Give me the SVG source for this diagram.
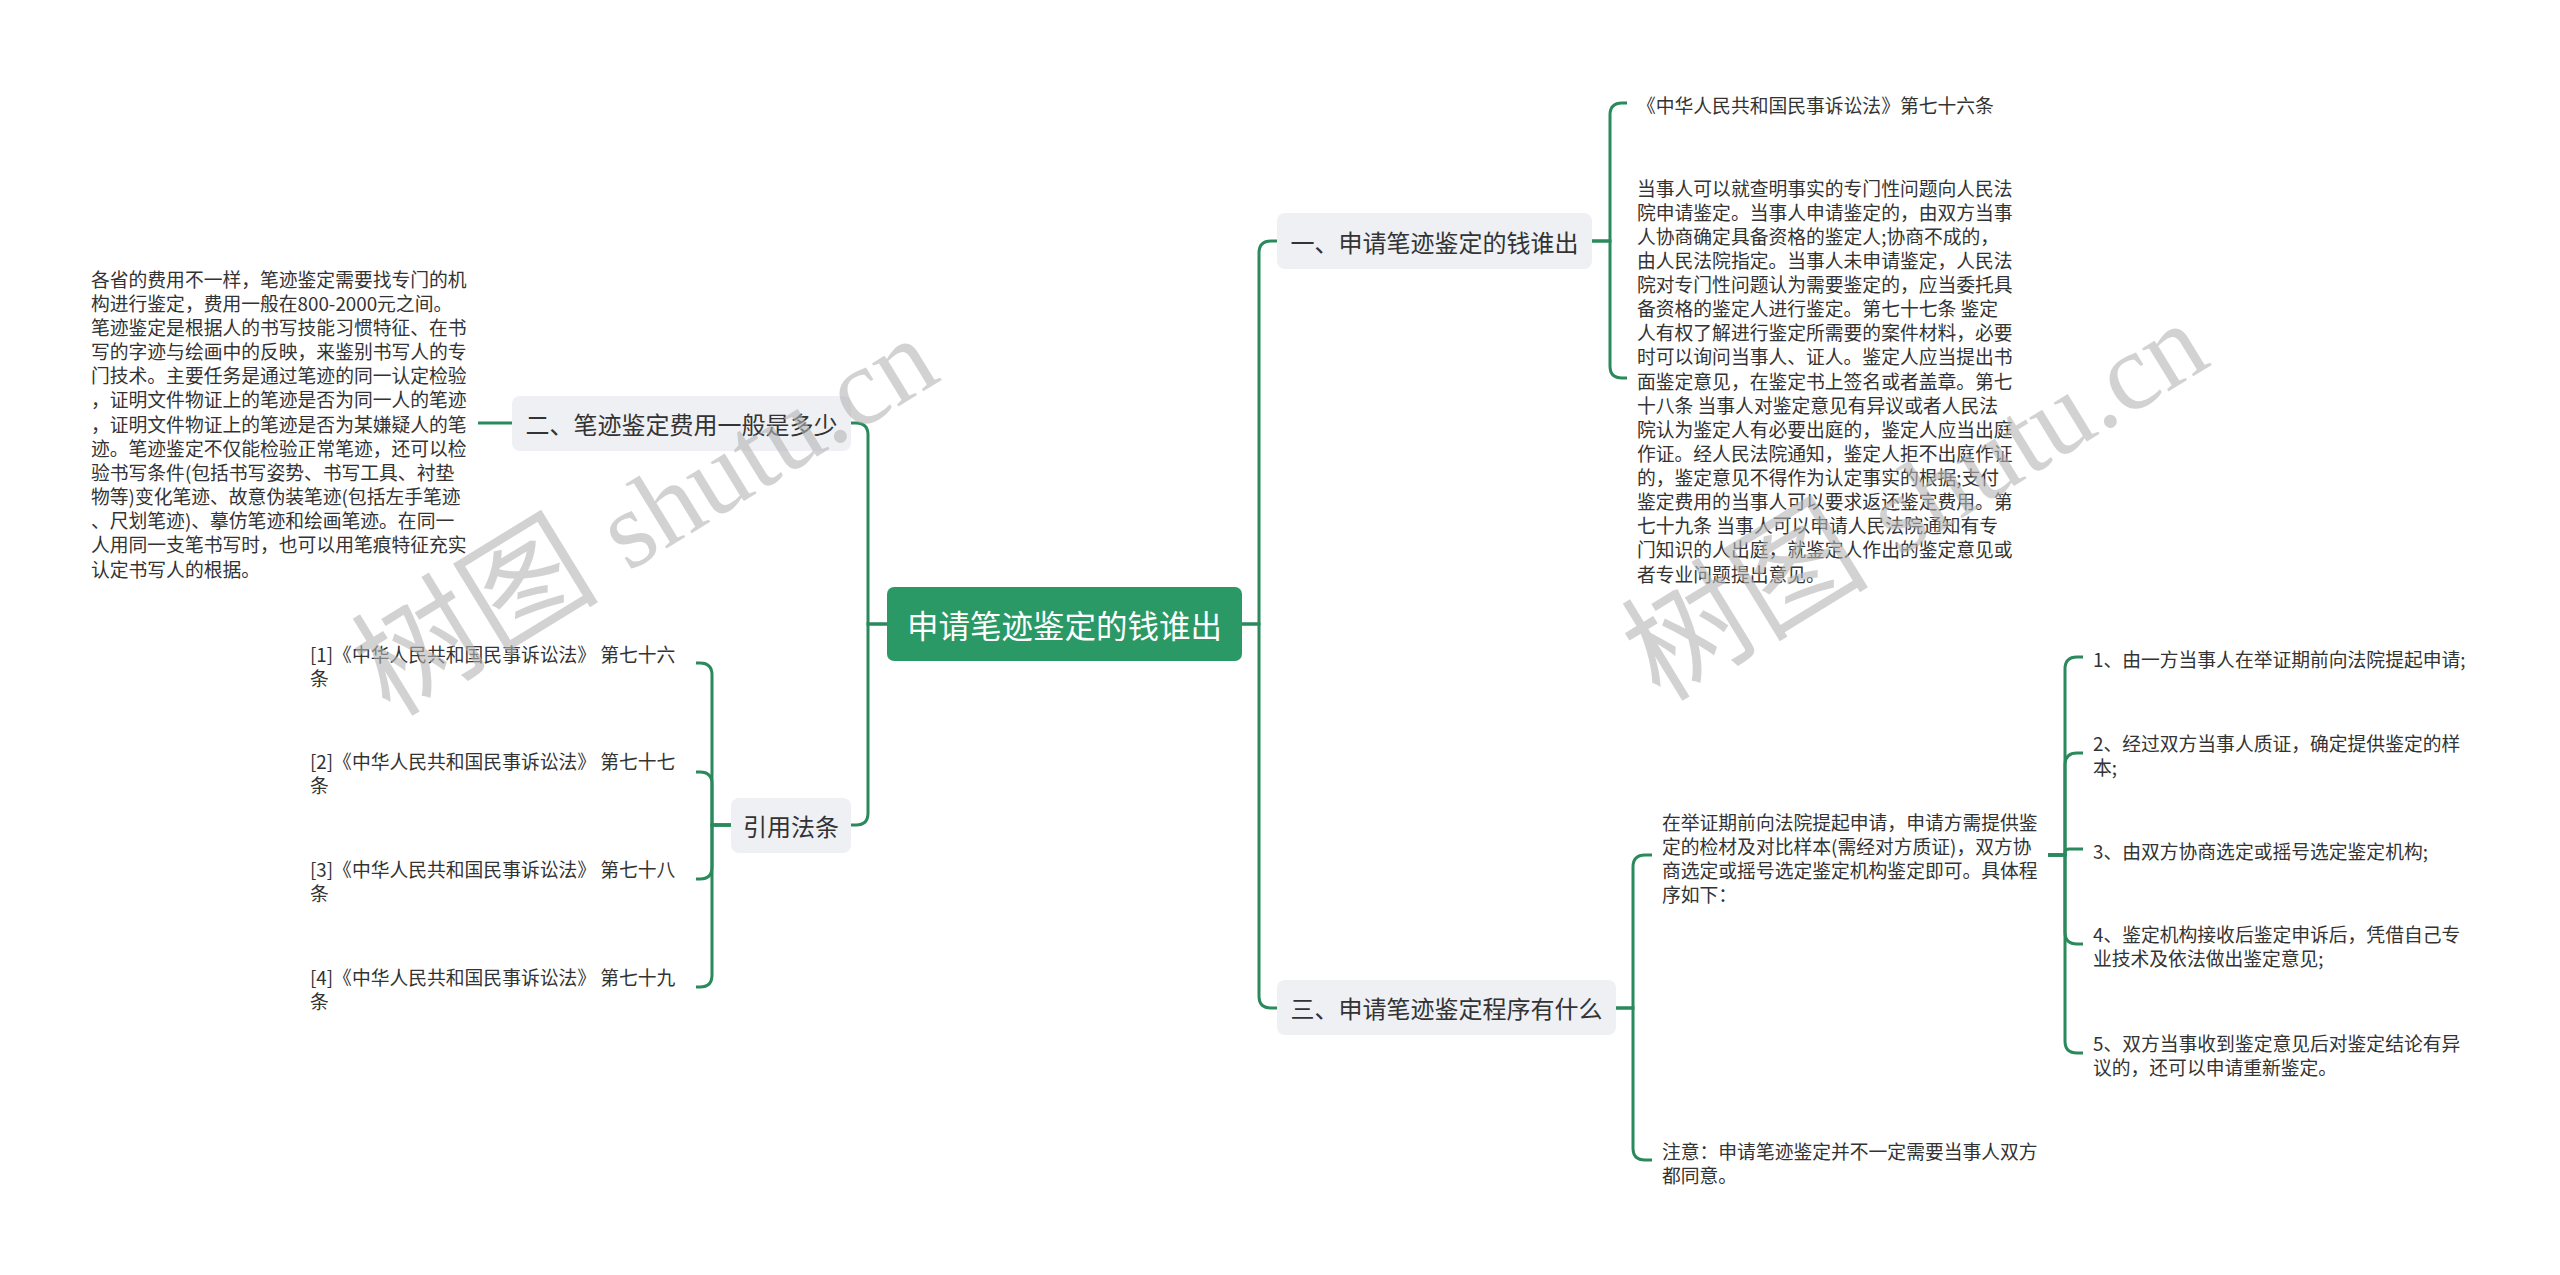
<svg xmlns="http://www.w3.org/2000/svg" width="2560" height="1275" viewBox="0 0 2560 1275">
<style>
text{font-family:"Noto Sans CJK SC","Noto Sans",sans-serif;dominant-baseline:central}
.leaf{font-size:18.8px;fill:#333}
.topic{font-size:24px;fill:#333;text-anchor:middle}
.root{font-size:31.5px;fill:#fff;text-anchor:middle}
.tbox{fill:#eef0f3}
.rbox{fill:#2b9966}
#connectors path{fill:none;stroke:#2b8a5c;stroke-width:3}
.wm{font-family:"Liberation Serif","Noto Sans CJK SC",serif;font-size:124px;fill:#b4b4b4;fill-opacity:.6;dominant-baseline:alphabetic}
.wm tspan{font-size:110px}
</style>
<rect width="2560" height="1275" fill="#fff"/>
<g id="connectors">
<path d="M1242,624 H1259 V253 Q1259,241 1271,241 H1277"/>
<path d="M1242,624 H1259 V996 Q1259,1008 1271,1008 H1277"/>
<path d="M887,624 H868 V435 Q868,423 856,423 H851"/>
<path d="M887,624 H868 V813 Q868,825 856,825 H851"/>
<path d="M1592,241 H1610 V115 Q1610,103 1622,103 H1627"/>
<path d="M1592,241 H1610 V366 Q1610,378 1622,378 H1627"/>
<path d="M1616,1008 H1633 V867 Q1633,855 1645,855 H1652"/>
<path d="M1616,1008 H1633 V1148 Q1633,1160 1645,1160 H1652"/>
<path d="M2048,855 H2065 V669 Q2065,657 2077,657 H2083"/>
<path d="M2048,855 H2065 V765 Q2065,753 2077,753 H2083"/>
<path d="M2048,855 H2065 V853 Q2065,849 2069,849 H2083"/>
<path d="M2048,855 H2065 V932 Q2065,944 2077,944 H2083"/>
<path d="M2048,855 H2065 V1041 Q2065,1053 2077,1053 H2083"/>
<path d="M731,825 H712 V675 Q712,663 700,663 H696"/>
<path d="M731,825 H712 V784 Q712,772 700,772 H696"/>
<path d="M731,825 H712 V867 Q712,879 700,879 H696"/>
<path d="M731,825 H712 V975 Q712,987 700,987 H696"/>
<path d="M512,423 H478"/>
</g>
<g id="root">
<rect class="rbox" x="887" y="587" width="355" height="74" rx="7"/>
<text class="root" x="1064.5" y="624">申请笔迹鉴定的钱谁出</text>
</g>
<g id="topic1">
<rect class="tbox" x="1277" y="213" width="315" height="56" rx="8"/>
<text class="topic" x="1434.5" y="241">一、申请笔迹鉴定的钱谁出</text>
</g>
<g id="topic2">
<rect class="tbox" x="512" y="396" width="339" height="55" rx="8"/>
<text class="topic" x="681.5" y="423.5">二、笔迹鉴定费用一般是多少</text>
</g>
<g id="topic3">
<rect class="tbox" x="1277" y="980" width="339" height="55" rx="8"/>
<text class="topic" x="1446.5" y="1007.5">三、申请笔迹鉴定程序有什么</text>
</g>
<g id="topic4">
<rect class="tbox" x="731" y="798" width="120" height="55" rx="8"/>
<text class="topic" x="791" y="825.5">引用法条</text>
</g>
<g id="t1c1">
<text class="leaf" x="1637" y="104">《中华人民共和国民事诉讼法》第七十六条</text>
</g>
<g id="t1c2" class="leaf">
<text x="1637" y="187">当事人可以就查明事实的专门性问题向人民法</text>
<text x="1637" y="211.1">院申请鉴定。当事人申请鉴定的，由双方当事</text>
<text x="1637" y="235.2">人协商确定具备资格的鉴定人;协商不成的，</text>
<text x="1637" y="259.4">由人民法院指定。当事人未申请鉴定，人民法</text>
<text x="1637" y="283.5">院对专门性问题认为需要鉴定的，应当委托具</text>
<text x="1637" y="307.6">备资格的鉴定人进行鉴定。第七十七条 鉴定</text>
<text x="1637" y="331.7">人有权了解进行鉴定所需要的案件材料，必要</text>
<text x="1637" y="355.8">时可以询问当事人、证人。鉴定人应当提出书</text>
<text x="1637" y="380">面鉴定意见，在鉴定书上签名或者盖章。第七</text>
<text x="1637" y="404.1">十八条 当事人对鉴定意见有异议或者人民法</text>
<text x="1637" y="428.2">院认为鉴定人有必要出庭的，鉴定人应当出庭</text>
<text x="1637" y="452.3">作证。经人民法院通知，鉴定人拒不出庭作证</text>
<text x="1637" y="476.4">的，鉴定意见不得作为认定事实的根据;支付</text>
<text x="1637" y="500.6">鉴定费用的当事人可以要求返还鉴定费用。第</text>
<text x="1637" y="524.7">七十九条 当事人可以申请人民法院通知有专</text>
<text x="1637" y="548.8">门知识的人出庭，就鉴定人作出的鉴定意见或</text>
<text x="1637" y="573">者专业问题提出意见。</text>
</g>
<g id="t2c1" class="leaf">
<text x="91" y="278">各省的费用不一样，笔迹鉴定需要找专门的机</text>
<text x="91" y="302.2">构进行鉴定，费用一般在800-2000元之间。</text>
<text x="91" y="326.3">笔迹鉴定是根据人的书写技能习惯特征、在书</text>
<text x="91" y="350.5">写的字迹与绘画中的反映，来鉴别书写人的专</text>
<text x="91" y="374.7">门技术。主要任务是通过笔迹的同一认定检验</text>
<text x="91" y="398.8">，证明文件物证上的笔迹是否为同一人的笔迹</text>
<text x="91" y="423">，证明文件物证上的笔迹是否为某嫌疑人的笔</text>
<text x="91" y="447.2">迹。笔迹鉴定不仅能检验正常笔迹，还可以检</text>
<text x="91" y="471.3">验书写条件(包括书写姿势、书写工具、衬垫</text>
<text x="91" y="495.5">物等)变化笔迹、故意伪装笔迹(包括左手笔迹</text>
<text x="91" y="519.7">、尺划笔迹)、摹仿笔迹和绘画笔迹。在同一</text>
<text x="91" y="543.8">人用同一支笔书写时，也可以用笔痕特征充实</text>
<text x="91" y="568">认定书写人的根据。</text>
</g>
<g id="cite1" class="leaf">
<text x="310" y="653">[1]《中华人民共和国民事诉讼法》 第七十六</text>
<text x="310" y="677">条</text>
</g>
<g id="cite2" class="leaf">
<text x="310" y="760">[2]《中华人民共和国民事诉讼法》 第七十七</text>
<text x="310" y="784">条</text>
</g>
<g id="cite3" class="leaf">
<text x="310" y="868">[3]《中华人民共和国民事诉讼法》 第七十八</text>
<text x="310" y="892">条</text>
</g>
<g id="cite4" class="leaf">
<text x="310" y="976">[4]《中华人民共和国民事诉讼法》 第七十九</text>
<text x="310" y="1000">条</text>
</g>
<g id="t3c1" class="leaf">
<text x="1662" y="821">在举证期前向法院提起申请，申请方需提供鉴</text>
<text x="1662" y="845">定的检材及对比样本(需经对方质证)，双方协</text>
<text x="1662" y="869">商选定或摇号选定鉴定机构鉴定即可。具体程</text>
<text x="1662" y="893">序如下：</text>
</g>
<g id="t3c2" class="leaf">
<text x="1662" y="1150">注意：申请笔迹鉴定并不一定需要当事人双方</text>
<text x="1662" y="1174">都同意。</text>
</g>
<g id="step1" class="leaf">
<text x="2093" y="658">1、由一方当事人在举证期前向法院提起申请;</text>
</g>
<g id="step2" class="leaf">
<text x="2093" y="742">2、经过双方当事人质证，确定提供鉴定的样</text>
<text x="2093" y="766">本;</text>
</g>
<g id="step3" class="leaf">
<text x="2093" y="850">3、由双方协商选定或摇号选定鉴定机构;</text>
</g>
<g id="step4" class="leaf">
<text x="2093" y="933">4、鉴定机构接收后鉴定申诉后，凭借自己专</text>
<text x="2093" y="957">业技术及依法做出鉴定意见;</text>
</g>
<g id="step5" class="leaf">
<text x="2093" y="1042">5、双方当事收到鉴定意见后对鉴定结论有异</text>
<text x="2093" y="1066">议的，还可以申请重新鉴定。</text>
</g>
<g id="watermark">
<text class="wm" transform="translate(390,718) rotate(-31.5)">树图 <tspan>shutu.cn</tspan></text>
<text class="wm" transform="translate(1660,703) rotate(-31.5)">树图 <tspan>shutu.cn</tspan></text>
</g>
</svg>
